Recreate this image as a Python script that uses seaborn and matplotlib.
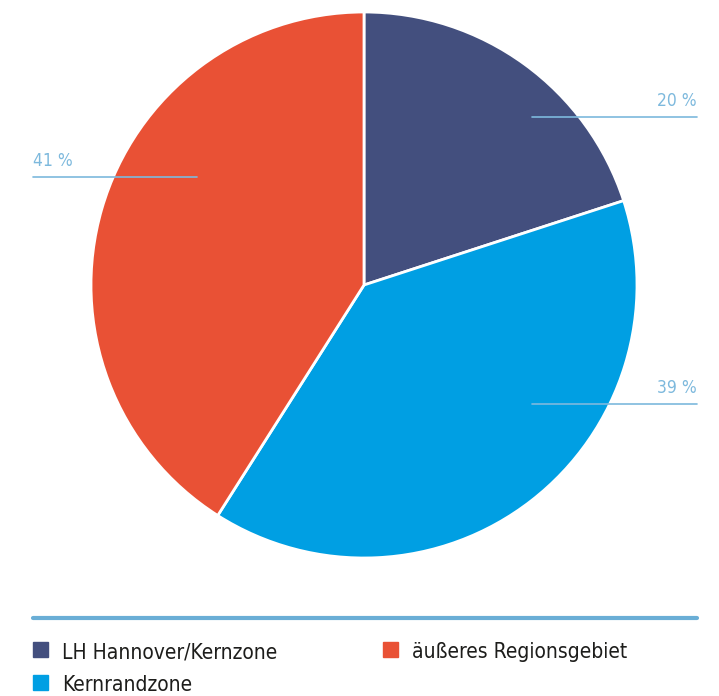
import matplotlib
matplotlib.use("Agg")
import matplotlib.pyplot as plt
import matplotlib.patches as mpatches
import matplotlib.lines as mlines
import seaborn as sns

# data
categories = ["LH Hannover/Kernzone", "Kernrandzone", "äußeres Regionsgebiet"]
shares = [20, 39, 41]
labels = ["20 %", "39 %", "41 %"]
colors = ["#434f7e", "#009fe3", "#e95135"]

sns.set_style("white")
plt.rcParams["font.family"] = ["DejaVu Sans"]
plt.rcParams["font.stretch"] = "condensed"

W, H = 719, 696
fig = plt.figure(figsize=(W / 100, H / 100), dpi=100)

# pie axes: centre (364, 285) px, radius 273 px
cx, cy, r = 364, 285, 273
ax = fig.add_axes([(cx - r) / W, (H - cy - r) / H, 2 * r / W, 2 * r / H])
wedges, _ = ax.pie(shares, colors=colors, startangle=90, counterclock=False,
                   radius=1, wedgeprops=dict(edgecolor="white", linewidth=2))
ax.set_xlim(-1, 1)
ax.set_ylim(-1, 1)
ax.set_aspect("equal")
ax.axis("off")

# leader lines (figure pixel positions: x0, x1, y, text side)
line_col = "#7db9dd"
leaders = [(532, 697, 117, "right"), (532, 697, 404, "right"), (33, 197, 177, "left")]
for lab, (x0, x1, y, side) in zip(labels, leaders):
    fig.add_artist(mlines.Line2D([x0 / W, x1 / W], [1 - y / H, 1 - y / H],
                                 color=line_col, lw=1.2))
    tx = x1 if side == "right" else x0
    fig.text(tx / W, 1 - (y - 7) / H, lab, ha=side, va="bottom",
             color=line_col, fontsize=12.5, fontstretch="condensed",
             fontweight="light")

# separator above legend
fig.add_artist(mlines.Line2D([33 / W, 697 / W], [1 - 618 / H, 1 - 618 / H],
                             color="#6aaed6", lw=3))

# legend, drawn by hand: (x of square, y centre) in pixels
legend_pos = [(33, 649), (33, 682), (383, 649)]
for cat, col, (lx, ly) in zip(categories, colors, legend_pos):
    fig.add_artist(mpatches.Rectangle((lx / W, 1 - (ly + 7.5) / H), 15 / W, 15 / H,
                                      color=col, transform=fig.transFigure))
    fig.text((lx + 29) / W, 1 - (ly + 1) / H, cat, ha="left", va="center_baseline",
             color="#1d1d1b", fontsize=15, fontstretch="condensed")

fig.savefig("out.png", dpi=100)
